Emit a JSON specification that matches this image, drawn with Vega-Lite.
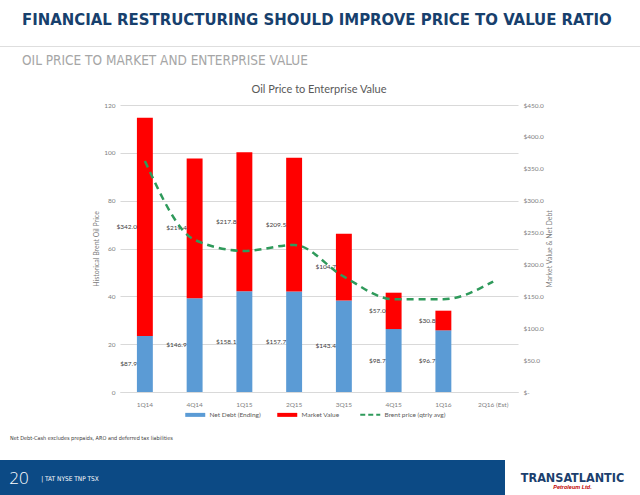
{
  "$schema": "https://vega.github.io/schema/vega-lite/v6.json",
  "padding": {"left": 0, "right": 0, "top": 11, "bottom": 0},
  "background": "white",
  "datasets": {
    "bars": [
      {"quarter": "1Q14", "series": "Net Debt (Ending)", "amount": 87.9},
      {"quarter": "1Q14", "series": "Market Value", "amount": 342.0},
      {"quarter": "4Q14", "series": "Net Debt (Ending)", "amount": 146.9},
      {"quarter": "4Q14", "series": "Market Value", "amount": 219.4},
      {"quarter": "1Q15", "series": "Net Debt (Ending)", "amount": 158.1},
      {"quarter": "1Q15", "series": "Market Value", "amount": 217.8},
      {"quarter": "2Q15", "series": "Net Debt (Ending)", "amount": 157.7},
      {"quarter": "2Q15", "series": "Market Value", "amount": 209.5},
      {"quarter": "3Q15", "series": "Net Debt (Ending)", "amount": 143.4},
      {"quarter": "3Q15", "series": "Market Value", "amount": 104.7},
      {"quarter": "4Q15", "series": "Net Debt (Ending)", "amount": 98.7},
      {"quarter": "4Q15", "series": "Market Value", "amount": 57.0},
      {"quarter": "1Q16", "series": "Net Debt (Ending)", "amount": 96.7},
      {"quarter": "1Q16", "series": "Market Value", "amount": 30.8}
    ],
    "brent": [
      {"quarter": "1Q14", "series": "Brent price (qtrly avg)", "brent": 96.6},
      {"quarter": "4Q14", "series": "Brent price (qtrly avg)", "brent": 63.6},
      {"quarter": "1Q15", "series": "Brent price (qtrly avg)", "brent": 59.0},
      {"quarter": "2Q15", "series": "Brent price (qtrly avg)", "brent": 61.5},
      {"quarter": "3Q15", "series": "Brent price (qtrly avg)", "brent": 48.2},
      {"quarter": "4Q15", "series": "Brent price (qtrly avg)", "brent": 38.8},
      {"quarter": "1Q16", "series": "Brent price (qtrly avg)", "brent": 38.8},
      {"quarter": "2Q16 (Est)", "series": "Brent price (qtrly avg)", "brent": 46.2}
    ]
  },
  "spacing": 16,
  "resolve": {"scale": {"color": "independent"}, "legend": {"color": "independent"}},
  "vconcat": [
    {
      "spacing": 1,
      "resolve": {"scale": {"color": "independent"}, "legend": {"color": "independent"}},
      "vconcat": [
        {
          "width": 640,
          "height": 1,
          "view": {"fill": "#dedede", "stroke": null},
          "title": {
            "text": "FINANCIAL RESTRUCTURING SHOULD IMPROVE PRICE TO VALUE RATIO",
            "anchor": "start",
            "dx": 22,
            "font": "'DejaVu Sans Condensed', 'Liberation Sans', sans-serif",
            "fontSize": 16.6,
            "fontWeight": "bold",
            "color": "#17406d",
            "offset": 12
          },
          "data": {"values": [{"t": ""}]},
          "mark": {"type": "text"},
          "encoding": {"text": {"field": "t"}}
        },
        {
          "title": {
            "text": "OIL PRICE TO MARKET AND ENTERPRISE VALUE",
            "anchor": "start",
            "dx": 22,
            "font": "'DejaVu Sans Condensed', 'Liberation Sans', sans-serif",
            "fontSize": 13.5,
            "fontWeight": "normal",
            "color": "#a6a6a6",
            "offset": 17
          },
          "spacing": 0,
          "resolve": {"scale": {"color": "independent"}, "legend": {"color": "independent"}},
          "hconcat": [
            {
              "width": 92,
              "height": 1,
              "data": {"values": [{"t": ""}]},
              "mark": {"type": "text"},
              "encoding": {"text": {"field": "t"}}
            },
            {
              "width": 398,
              "height": 287,
              "title": {
                "text": "Oil Price to Enterprise Value",
                "font": "Lato",
                "fontSize": 11,
                "fontWeight": "normal",
                "color": "#595959",
                "anchor": "middle",
                "offset": 7
              },
              "layer": [
                {
                  "data": {"name": "bars"},
                  "mark": {"type": "bar"},
                  "encoding": {
                    "x": {
                      "field": "quarter",
                      "type": "nominal",
                      "scale": {
                        "domain": ["1Q14", "4Q14", "1Q15", "2Q15", "3Q15", "4Q15", "1Q16", "2Q16 (Est)"],
                        "paddingInner": 0.68,
                        "paddingOuter": 0.34
                      },
                      "axis": {
                        "title": null,
                        "labelAngle": 0,
                        "domain": true,
                        "domainColor": "#d9d9d9",
                        "labelPadding": 9,
                        "grid": false
                      }
                    },
                    "y": {
                      "field": "amount",
                      "type": "quantitative",
                      "stack": "zero",
                      "scale": {"domain": [0, 450], "nice": false},
                      "axis": {
                        "orient": "right",
                        "title": "Market Value & Net Debt",
                        "values": [0, 50, 100, 150, 200, 250, 300, 350, 400, 450],
                        "labelExpr": "datum.value === 0 ? '$-' : '$' + format(datum.value, '.1f')",
                        "grid": false,
                        "labelPadding": 5,
                        "titleAngle": 270,
                        "titlePadding": 9
                      }
                    },
                    "color": {
                      "field": "series",
                      "type": "nominal",
                      "scale": {
                        "domain": ["Net Debt (Ending)", "Market Value", "Brent price (qtrly avg)"],
                        "range": ["#5b9bd5", "#ff0000", "#2f9a5b"]
                      },
                      "legend": {
                        "orient": "bottom",
                        "direction": "horizontal",
                        "title": null,
                        "labelFont": "Lato",
                        "labelFontSize": 6.5,
                        "labelColor": "#595959",
                        "symbolSize": 400,
                        "columnPadding": 16,
                        "labelOffset": 11,
                        "offset": 3,
                        "padding": 0,
                        "encode": {
                          "symbols": {
                            "update": {
                              "shape": {"signal": "datum.value === 'Brent price (qtrly avg)' ? 'M-1,0H1' : 'M-1,-0.2H1V0.2H-1Z'"},
                              "fill": {"signal": "datum.value === 'Net Debt (Ending)' ? '#5b9bd5' : datum.value === 'Market Value' ? '#ff0000' : 'transparent'"},
                              "stroke": {"signal": "datum.value === 'Brent price (qtrly avg)' ? '#2f9a5b' : 'transparent'"},
                              "strokeDash": {"signal": "datum.value === 'Brent price (qtrly avg)' ? [5, 3] : [1, 0]"},
                              "strokeWidth": {"signal": "datum.value === 'Brent price (qtrly avg)' ? 2 : 0"},
                              "opacity": {"value": 1}
                            }
                          }
                        }
                      }
                    },
                    "order": {"field": "series", "sort": "descending"}
                  }
                },
                {
                  "data": {"name": "bars"},
                  "transform": [
                    {"stack": "amount", "groupby": ["quarter"], "sort": [{"field": "series", "order": "descending"}], "as": ["v0", "v1"]},
                    {"fold": ["v0", "v1"], "as": ["end", "pos"]},
                    {"aggregate": [{"op": "mean", "field": "pos", "as": "mid"}], "groupby": ["quarter", "series", "amount"]}
                  ],
                  "mark": {"type": "text", "align": "right", "baseline": "middle", "font": "Lato", "fontSize": 6.5, "color": "#404040"},
                  "encoding": {
                    "x": {"field": "quarter", "type": "nominal", "bandPosition": 0},
                    "y": {"field": "mid", "type": "quantitative", "stack": null, "scale": {"domain": [0, 450], "nice": false}, "axis": null},
                    "text": {"field": "amount", "type": "quantitative", "format": "$.1f"}
                  }
                },
                {
                  "data": {"name": "brent"},
                  "mark": {"type": "line", "interpolate": "monotone", "strokeDash": [7, 5], "strokeWidth": 2.5},
                  "encoding": {
                    "x": {"field": "quarter", "type": "nominal"},
                    "y": {
                      "field": "brent",
                      "type": "quantitative",
                      "scale": {"domain": [0, 120], "nice": false},
                      "axis": {
                        "orient": "left",
                        "title": "Historical Brent Oil Price",
                        "values": [0, 20, 40, 60, 80, 100, 120],
                        "grid": true,
                        "labelPadding": 5,
                        "titlePadding": 4
                      }
                    },
                    "color": {"field": "series", "type": "nominal", "legend": null}
                  }
                }
              ],
              "resolve": {"scale": {"y": "independent"}}
            }
          ]
        }
      ]
    },
    {
      "title": {
        "text": "Net Debt-Cash excludes prepaids, ARO and deferred tax liabilities",
        "anchor": "start",
        "dx": 10,
        "font": "'DejaVu Sans Condensed', 'Liberation Sans', sans-serif",
        "fontSize": 5.5,
        "fontWeight": "normal",
        "color": "#404040",
        "offset": 19
      },
      "spacing": 0,
      "hconcat": [
        {
          "width": 38,
          "height": 37,
          "view": {"fill": "#0c4a85", "stroke": null},
          "data": {"values": [{"t": "20"}]},
          "mark": {"type": "text", "color": "white", "fontSize": 17, "font": "Open Sans", "fontWeight": 300},
          "encoding": {"text": {"field": "t"}}
        },
        {
          "width": 64,
          "height": 37,
          "view": {"fill": "#0c4a85", "stroke": null},
          "data": {"values": [{"t": "|  TAT NYSE   TNP TSX"}]},
          "mark": {"type": "text", "color": "white", "fontSize": 6.5, "font": "'DejaVu Sans Condensed', 'Liberation Sans', sans-serif"},
          "encoding": {"text": {"field": "t"}}
        },
        {
          "width": 403,
          "height": 37,
          "view": {"fill": "#0c4a85", "stroke": null},
          "data": {"values": [{"t": ""}]},
          "mark": {"type": "text"},
          "encoding": {"text": {"field": "t"}}
        },
        {
          "width": 135,
          "height": 37,
          "view": {"fill": "white", "stroke": null},
          "layer": [
            {
              "data": {"values": [{"t": "TRANSATLANTIC"}]},
              "mark": {"type": "text", "color": "#1c3f6e", "fontSize": 12.5, "font": "'DejaVu Sans Condensed', 'Liberation Sans', sans-serif", "fontWeight": "bold", "baseline": "alphabetic", "dy": 3},
              "encoding": {"text": {"field": "t"}}
            },
            {
              "data": {"values": [{"t": "Petroleum Ltd."}]},
              "mark": {"type": "text", "color": "#c00000", "fontSize": 5.5, "font": "Liberation Sans", "fontStyle": "italic", "fontWeight": "bold", "baseline": "top", "dy": 6},
              "encoding": {"text": {"field": "t"}}
            }
          ]
        }
      ]
    }
  ],
  "config": {
    "view": {"stroke": null},
    "legend": {"layout": {"bottom": {"anchor": "middle"}}},
    "axis": {
      "labelFont": "Lato",
      "titleFont": "Lato",
      "labelColor": "#808080",
      "titleColor": "#808080",
      "labelFontSize": 6.5,
      "titleFontSize": 7,
      "titleFontWeight": "normal",
      "ticks": false,
      "domain": false,
      "gridColor": "#d9d9d9"
    }
  }
}
